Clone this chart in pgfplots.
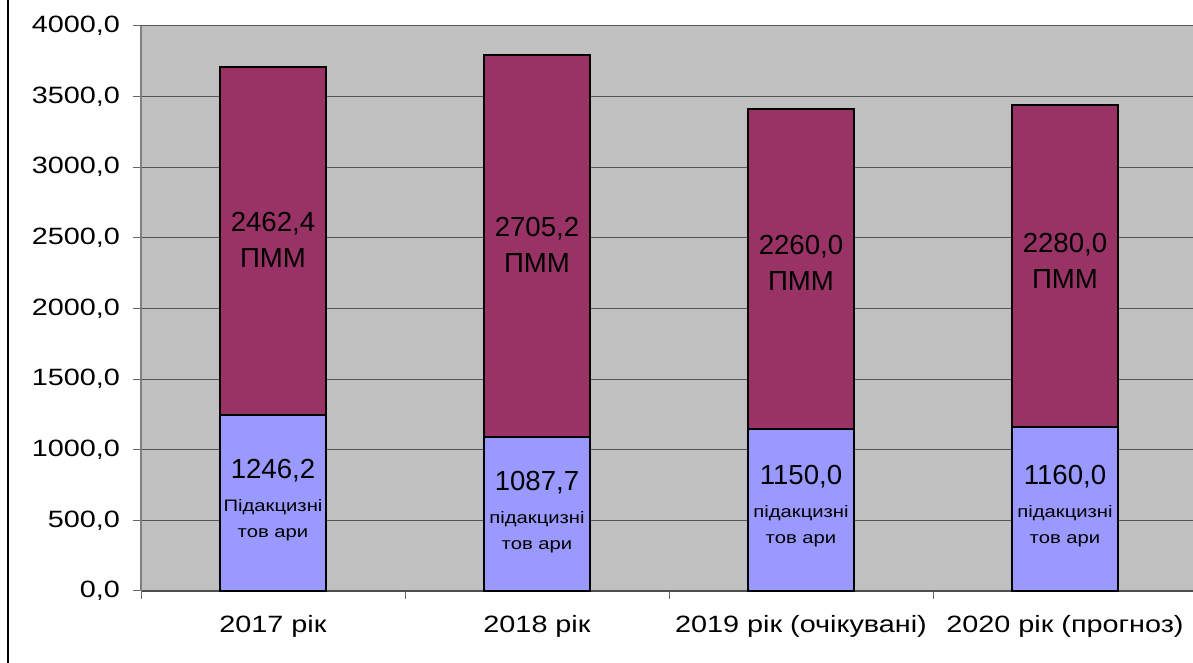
\documentclass[border=0pt]{standalone}
\usepackage{pgfplots}
\pgfplotsset{compat=1.18}
\usepackage{fontspec}
\setmainfont{Liberation Sans}[FakeStretch=1.22]
\newfontfamily\barfont{Liberation Sans}
\definecolor{bgray}{HTML}{C0C0C0}
\definecolor{pmm}{HTML}{993366}
\definecolor{akc}{HTML}{9999FF}
\definecolor{gridc}{HTML}{555555}
\tikzset{
  upl/.style={align=center, inner sep=0pt, text=black, font=\barfont\fontsize{13.8}{18}\selectfont},
  lowl/.style={align=center, inner sep=0pt, text=black, font=\barfont\fontsize{13.8}{16.5}\selectfont},
}
\begin{document}
\begin{tikzpicture}
\useasboundingbox (0,0) rectangle (596.5pt,331.5pt);
\fill[white] (0,0) rectangle (596.5pt,331.5pt);
\draw[black, line width=1.3pt] (3.9pt,0) -- (3.9pt,331.5pt);
\begin{axis}[
  at={(70.5pt,36pt)}, anchor=south west,
  scale only axis, width=528pt, height=282.5pt,
  ybar stacked, bar width=0.405, reverse stacked plots=false,
  xmin=-0.5, xmax=3.5, ymin=0, ymax=4000,
  ytick distance=500,
  xtick={0,1,2,3},
  xticklabels={2017 рік, 2018 рік, 2019 рік (очікувані), 2020 рік (прогноз)},
  extra x ticks={-0.5,0.5,1.5,2.5},
  extra x tick labels={},
  extra x tick style={xtick style={draw=black!60, line width=0.5pt}},
  xtick style={draw=none},
  major tick length=4pt,
  tick align=outside,
  ytick style={black!60, line width=0.5pt},
  ymajorgrids, major grid style={gridc, line width=0.5pt},
  axis background/.style={fill=bgray},
  axis x line*=bottom, axis y line*=left,
  x axis line style={black!70, line width=0.6pt},
  y axis line style={black!50, line width=1pt},
  yticklabel style={/pgf/number format/fixed, /pgf/number format/fixed zerofill, /pgf/number format/precision=1, /pgf/number format/use comma, /pgf/number format/1000 sep={}, /pgf/number format/assume math mode=true, font=\fontsize{11.8}{14}\selectfont, xshift=-3pt},
  xticklabel style={font=\fontsize{11.8}{14}\selectfont, yshift=-4.5pt},
  clip=false,
]
\addplot[fill=akc, draw=black, line width=1pt] coordinates {(0,1246.2) (1,1087.7) (2,1150.0) (3,1160.0)};
\addplot[fill=pmm, draw=black, line width=1pt] coordinates {(0,2462.4) (1,2705.2) (2,2260.0) (3,2280.0)};
\node[upl] at (axis cs:0,2485) {2462,4\\ПММ};
\node[upl] at (axis cs:1,2450) {2705,2\\ПММ};
\node[upl] at (axis cs:2,2322) {2260,0\\ПММ};
\node[upl] at (axis cs:3,2336) {2280,0\\ПММ};
\node[lowl] at (axis cs:0,644) {1246,2\\{\rmfamily\fontsize{8.3}{10}\selectfont Підакцизні}\\[-3.5pt]{\rmfamily\fontsize{8.3}{10}\selectfont тов ари}};
\node[lowl] at (axis cs:1,559) {1087,7\\{\rmfamily\fontsize{8.3}{10}\selectfont підакцизні}\\[-3.5pt]{\rmfamily\fontsize{8.3}{10}\selectfont тов ари}};
\node[lowl] at (axis cs:2,602) {1150,0\\{\rmfamily\fontsize{8.3}{10}\selectfont підакцизні}\\[-3.5pt]{\rmfamily\fontsize{8.3}{10}\selectfont тов ари}};
\node[lowl] at (axis cs:3,602) {1160,0\\{\rmfamily\fontsize{8.3}{10}\selectfont підакцизні}\\[-3.5pt]{\rmfamily\fontsize{8.3}{10}\selectfont тов ари}};
\end{axis}
\end{tikzpicture}
\end{document}
